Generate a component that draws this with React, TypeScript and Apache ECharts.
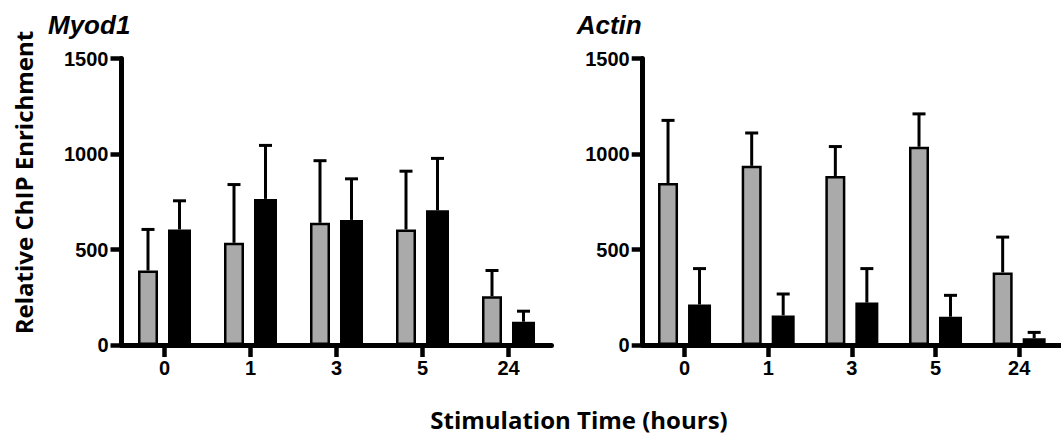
import React, { useEffect, useRef } from 'react';
import * as echarts from 'echarts';

const categories = ['0', '1', '3', '5', '24'];

const myodControl = [390, 535, 640, 605, 255];
const myodControlErr = [215, 305, 325, 305, 135];
const myodTreated = [605, 765, 655, 705, 122];
const myodTreatedErr = [150, 280, 215, 272, 55];

const actinControl = [848, 938, 885, 1038, 380];
const actinControlErr = [328, 172, 154, 172, 185];
const actinTreated = [212, 155, 222, 148, 35];
const actinTreatedErr = [188, 112, 178, 112, 31];

const yMin = 0;
const yMax = 1500;
const yStep = 500;

const panelTitles = ['Myod1', 'Actin'];
const yTitle = 'Relative ChIP Enrichment';
const xTitle = 'Stimulation Time (hours)';

const GRAY = '#aaaaaa';
const GW = 20; // control bar width
const BW = 23; // treated bar width
const GAP = 0.5;
const SUM = GW * (1 + GAP) + BW;
const GRAY_OFF = -SUM / 2 + GW / 2;
const BLACK_OFF = -SUM / 2 + GW * (1 + GAP) + BW / 2;

const makeErr = (offset: number) => (params: any, api: any) => {
  const cat = api.value(0);
  const mean = api.value(1);
  const err = api.value(2);
  const base = api.coord([cat, mean]);
  const top = api.coord([cat, mean + err]);
  const x = base[0] + offset;
  return {
    type: 'group',
    children: [
      { type: 'line', shape: { x1: x, y1: base[1], x2: x, y2: top[1] }, style: { stroke: '#000', lineWidth: 3 } },
      { type: 'line', shape: { x1: x - 6.5, y1: top[1], x2: x + 6.5, y2: top[1] }, style: { stroke: '#000', lineWidth: 3 } },
    ],
  };
};

export default function App() {
  const ref = useRef<HTMLDivElement>(null);
  useEffect(() => {
    if (!ref.current) return;
    const chart = echarts.init(ref.current, undefined, { renderer: 'svg' });
    const panels = [
      { c: myodControl, ce: myodControlErr, t: myodTreated, te: myodTreatedErr },
      { c: actinControl, ce: actinControlErr, t: actinTreated, te: actinTreatedErr },
    ];
    const grids = [
      { left: 121.5, top: 58.5, width: 430, height: 286.5 },
      { left: 642.7, top: 58.5, width: 430, height: 286.5 },
    ];
    const labelFont = { fontFamily: '"Liberation Sans", Arial, sans-serif', fontWeight: 'bold' as const, fontSize: 20, color: '#000' };
    const xAxis = grids.map((_, i) => ({
      type: 'category',
      gridIndex: i,
      data: categories,
      boundaryGap: true,
      axisLine: { show: true, lineStyle: { color: '#000', width: 5 } },
      axisTick: { show: true, alignWithLabel: true, length: 12, lineStyle: { color: '#000', width: 4.5 } },
      axisLabel: { ...labelFont, margin: 13 },
      splitLine: { show: false },
    }));
    const yAxis = grids.map((_, i) => ({
      type: 'value',
      gridIndex: i,
      min: yMin,
      max: yMax,
      interval: yStep,
      axisLine: { show: true, lineStyle: { color: '#000', width: 5 } },
      axisTick: { show: true, length: 11, lineStyle: { color: '#000', width: 4.5 } },
      axisLabel: { ...labelFont, margin: 13, formatter: (v: number) => String(v) },
      splitLine: { show: false },
    }));
    const series: any[] = [];
    panels.forEach((p, i) => {
      series.push({
        type: 'bar', xAxisIndex: i, yAxisIndex: i, data: p.c, barWidth: GW, barGap: `${GAP * 100}%`,
        itemStyle: { color: GRAY, borderColor: '#000', borderWidth: 2.5 },
      });
      series.push({
        type: 'bar', xAxisIndex: i, yAxisIndex: i, data: p.t, barWidth: BW, barGap: `${GAP * 100}%`,
        itemStyle: { color: '#000', borderColor: '#000', borderWidth: 2 },
      });
      series.push({
        type: 'custom', xAxisIndex: i, yAxisIndex: i, z: 5,
        data: categories.map((_, k) => [k, p.c[k], p.ce[k]]),
        renderItem: makeErr(GRAY_OFF),
      });
      series.push({
        type: 'custom', xAxisIndex: i, yAxisIndex: i, z: 5,
        data: categories.map((_, k) => [k, p.t[k], p.te[k]]),
        renderItem: makeErr(BLACK_OFF),
      });
    });
    const titleFont = 'italic bold 26px "Liberation Sans", Arial, sans-serif';
    const axisTitleFont = 'bold 24px "Open Sans", sans-serif';
    chart.setOption({
      animation: false,
      backgroundColor: '#fff',
      grid: grids,
      xAxis,
      yAxis,
      series,
      graphic: [
        { type: 'text', x: 48, y: 24.5, style: { text: panelTitles[0], font: titleFont, fill: '#000', textAlign: 'left', textVerticalAlign: 'middle', align: 'left', verticalAlign: 'middle' } },
        { type: 'text', x: 576.7, y: 24.5, style: { text: panelTitles[1], font: titleFont, fill: '#000', textAlign: 'left', textVerticalAlign: 'middle', align: 'left', verticalAlign: 'middle' } },
        { type: 'text', x: 23.7, y: 182.5, rotation: Math.PI / 2, style: { text: yTitle, font: axisTitleFont, fill: '#000', textAlign: 'center', textVerticalAlign: 'middle', align: 'center', verticalAlign: 'middle' } },
        { type: 'text', x: 579, y: 419, style: { text: xTitle, font: axisTitleFont, fill: '#000', textAlign: 'center', textVerticalAlign: 'middle', align: 'center', verticalAlign: 'middle' } },
      ],
    });
    return () => chart.dispose();
  }, []);
  return <div ref={ref} style={{ position: 'fixed', left: 0, top: 0, width: 1061, height: 440, background: '#fff' }} />;
}
